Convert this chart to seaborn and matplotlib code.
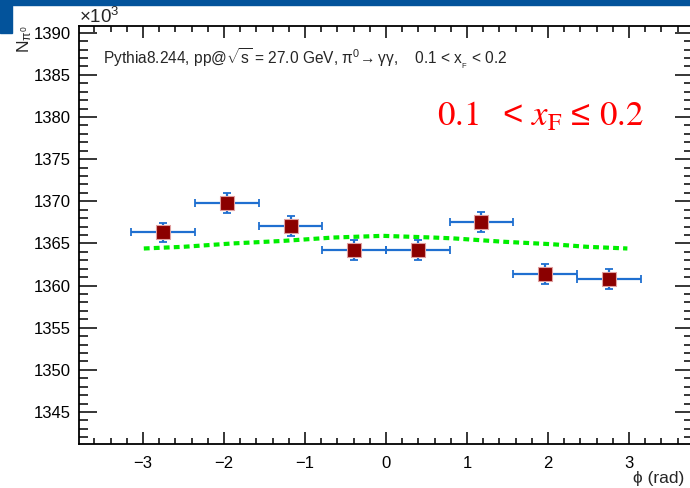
import seaborn as sns
import matplotlib.pyplot as plt
import matplotlib.patches as patches
from matplotlib.ticker import MultipleLocator
import pandas as pd
import numpy as np

# phi bins (8 bins over -pi..pi), counts in units of 10^3
phi_centers = [-2.749, -1.963, -1.178, -0.393, 0.393, 1.178, 1.963, 2.749]
phi_halfwidth = [0.393, 0.393, 0.393, 0.393, 0.393, 0.393, 0.393, 0.393]
counts = [1366.3, 1369.8, 1367.1, 1364.2, 1364.2, 1367.5, 1361.4, 1360.8]
count_err = [1.17, 1.17, 1.17, 1.17, 1.17, 1.17, 1.17, 1.17]

# fitted curve
fit_phi = [-2.99, -2.5, -1.89, -1.27, -0.65, -0.04, 0.58, 0.83, 1.45, 2.06, 2.48, 2.98]
fit_val = [1364.4, 1364.6, 1365.0, 1365.3, 1365.7, 1365.9, 1365.7, 1365.6, 1365.2, 1364.9, 1364.6, 1364.4]

df = pd.DataFrame({'phi': phi_centers, 'N': counts})
fit = pd.DataFrame({'phi': fit_phi, 'N': fit_val})

sns.set_theme(style='ticks')
plt.rcParams['font.family'] = ['Liberation Sans', 'DejaVu Sans']
plt.rcParams['mathtext.fontset'] = 'custom'
plt.rcParams['mathtext.rm'] = 'Liberation Sans'
plt.rcParams['mathtext.it'] = 'Liberation Sans:italic'
plt.rcParams['mathtext.default'] = 'regular'

W, H = 690, 488
fig = plt.figure(figsize=(W / 100, H / 100), dpi=100)
ax = fig.add_axes([79 / W, 44 / H, 614 / W, 418 / H])

# banner decoration
fig.patches.append(patches.Rectangle((0, 1 - 5 / H), 1, 5 / H, transform=fig.transFigure,
                                     color='#03539b', zorder=0))
fig.patches.append(patches.Rectangle((0, 1 - 33 / H), 12 / W, 33 / H, transform=fig.transFigure,
                                     color='#03539b', zorder=0))

sns.lineplot(data=fit, x='phi', y='N', ax=ax, color='#00ee00', lw=3,
             linestyle=(0, (1.4, 1.0)), zorder=2)
ax.errorbar(df['phi'], df['N'], xerr=phi_halfwidth, yerr=count_err, fmt='none',
            ecolor='#1f6fd0', elinewidth=1.6, capsize=3, capthick=1.3, zorder=3)
sns.scatterplot(data=df, x='phi', y='N', ax=ax, marker='s', s=90, color='#8b0000',
                edgecolor='#e0a0a0', linewidth=0.8, zorder=4)

ax.set_xlim(-3.79, 3.79)
ax.set_ylim(1341.2, 1390.8)
ax.set_xlabel('')
ax.set_ylabel('')
ax.xaxis.set_major_locator(MultipleLocator(1))
ax.xaxis.set_minor_locator(MultipleLocator(0.2))
ax.yaxis.set_major_locator(MultipleLocator(5))
ax.yaxis.set_minor_locator(MultipleLocator(1))
ax.tick_params(which='both', direction='in', top=True, right=True, colors='black',
               labelsize=12, width=1.1)
ax.tick_params(axis='x', which='major', length=8.5, pad=9)
ax.tick_params(axis='x', which='minor', length=4.5)
ax.tick_params(axis='y', which='major', length=13, pad=6)
ax.tick_params(axis='y', which='minor', length=6.5)
for s in ax.spines.values():
    s.set_linewidth(1.3)
    s.set_color('black')

fig.text(79 / W, 1 - 17 / H, r'$\times$10$^3$', fontsize=13.5, ha='left', va='center')
fig.text(15 / W, 1 - 25 / H, r'$N_{\pi^0}$', fontsize=12.5, rotation=90, ha='left', va='top')
fig.text(633 / W, 1 - 478 / H, 'ϕ (rad)', fontsize=12.5, ha='left', va='center')

fig.text(103 / W, 1 - 59 / H,
         r'Pythia8.244, pp@$\sqrt{s}$ = 27.0 GeV, $\pi^0\!\rightarrow\gamma\gamma$,    0.1 < x$_{_{F}}$ < 0.2',
         fontsize=11.2, ha='left', va='center')
fig.text(437 / W, 1 - 116 / H,
         r'$\mathrm{0.1}\ \ <\, \mathit{x}_{\mathrm{F}}\, \leq\, \mathrm{0.2}$', color='red',
         fontsize=25, ha='left', va='center', math_fontfamily='stix')

fig.savefig('out.png', dpi=100)
